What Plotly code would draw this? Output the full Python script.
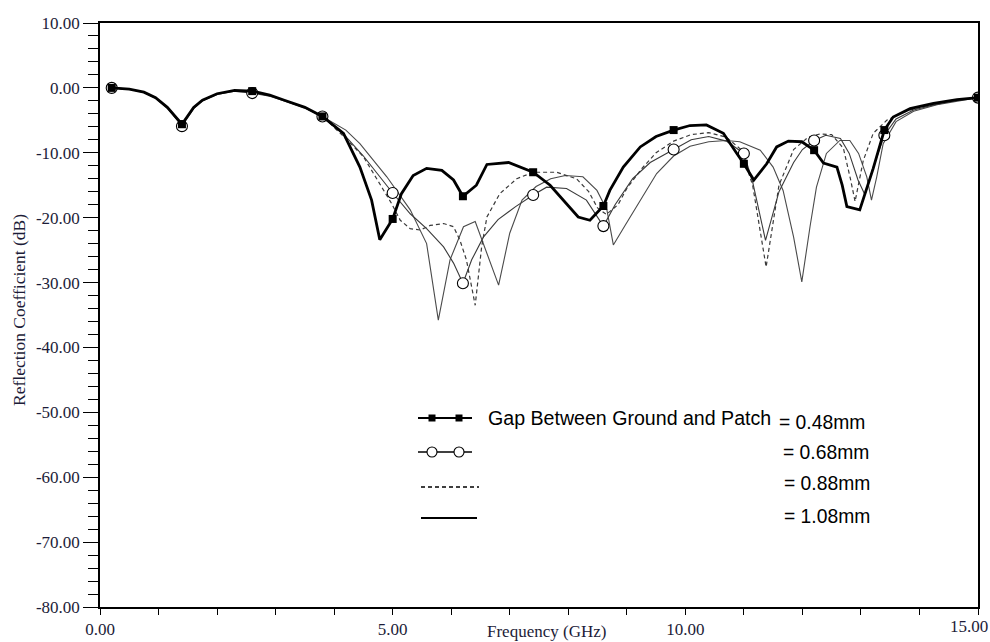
import plotly.graph_objects as go

# ---------------- data ----------------
F_048 = [0.2,0.5,0.75,0.95,1.15,1.4,1.6,1.75,2.0,2.3,2.6,2.9,3.15,3.5,3.8,4.16,4.44,4.64,4.78,5.0,5.15,5.35,5.58,5.84,6.04,6.2,6.43,6.61,6.98,7.2,7.4,7.69,7.97,8.17,8.37,8.6,8.71,8.94,9.23,9.5,9.8,10.08,10.36,10.65,10.88,11.0,11.17,11.39,11.56,11.76,11.99,12.2,12.36,12.59,12.68,12.76,12.98,13.21,13.4,13.55,13.84,14.24,14.64,15.0]
S_048 = [0.0,-0.2,-0.65,-1.5,-3.0,-5.6,-3.0,-1.9,-0.9,-0.4,-0.5,-1.1,-1.9,-3.0,-4.4,-7.0,-12.2,-17.3,-23.4,-20.2,-16.3,-13.5,-12.4,-12.7,-14.2,-16.7,-15.0,-11.8,-11.5,-12.3,-13.0,-15.0,-17.8,-19.9,-20.4,-18.2,-15.8,-12.2,-9.1,-7.5,-6.5,-5.8,-5.7,-7.0,-10.1,-11.7,-14.2,-11.7,-9.1,-8.2,-8.3,-9.6,-11.6,-12.2,-15.0,-18.3,-18.8,-12.4,-6.5,-4.5,-3.2,-2.4,-1.8,-1.5]

F_068 = [0.2,0.5,0.75,0.95,1.15,1.4,1.6,1.75,2.0,2.3,2.6,2.9,3.15,3.5,3.8,4.2,4.5,4.8,5.0,5.3,5.58,5.87,6.04,6.2,6.35,6.55,6.8,7.1,7.4,7.63,7.97,8.31,8.6,8.8,9.1,9.4,9.8,10.1,10.4,10.7,11.0,11.15,11.37,11.6,11.85,12.0,12.2,12.4,12.65,12.8,12.95,13.07,13.2,13.4,13.6,13.9,14.3,14.65,15.0]
S_068 = [0.0,-0.2,-0.7,-1.6,-3.1,-5.9,-3.2,-2.0,-1.0,-0.5,-0.8,-1.3,-2.0,-3.1,-4.4,-7.5,-10.5,-14.0,-16.2,-19.4,-21.7,-24.5,-27.0,-30.1,-26.5,-23.0,-20.3,-18.3,-16.5,-15.3,-15.5,-17.3,-21.3,-18.0,-14.0,-11.5,-9.5,-8.0,-7.5,-8.2,-10.1,-14.5,-23.5,-16.0,-11.5,-9.5,-8.1,-7.3,-7.8,-10.1,-14.2,-16.5,-12.5,-7.3,-4.8,-3.4,-2.5,-1.9,-1.5]

F_088 = [0.2,0.5,0.75,0.95,1.15,1.4,1.6,1.75,2.0,2.3,2.6,2.9,3.15,3.5,3.8,4.2,4.5,4.78,4.98,5.13,5.3,5.47,5.64,5.87,6.04,6.15,6.26,6.41,6.52,6.61,6.83,7.12,7.4,7.8,8.14,8.35,8.5,8.65,8.85,9.0,9.25,9.5,9.8,10.1,10.4,10.7,10.95,11.15,11.38,11.6,11.85,12.1,12.3,12.5,12.7,12.82,12.9,13.04,13.21,13.44,13.7,14.0,14.4,14.7,15.0]
S_088 = [0.0,-0.2,-0.65,-1.5,-3.0,-5.7,-3.0,-1.9,-0.9,-0.4,-0.6,-1.2,-1.9,-3.0,-4.4,-7.8,-10.6,-14.7,-17.8,-20.4,-21.7,-21.9,-21.2,-20.9,-21.4,-23.5,-26.5,-33.5,-24.5,-19.9,-16.3,-14.0,-13.0,-13.0,-14.0,-16.0,-18.5,-19.5,-18.0,-15.5,-12.5,-10.0,-8.2,-7.2,-6.9,-7.6,-9.5,-15.0,-27.6,-15.0,-9.5,-7.6,-7.1,-7.2,-9.3,-14.0,-17.5,-11.2,-7.0,-5.0,-3.8,-3.0,-2.3,-1.8,-1.5]

F_108 = [0.2,0.5,0.75,0.95,1.15,1.4,1.6,1.75,2.0,2.3,2.6,2.9,3.15,3.5,3.8,4.2,4.44,4.9,5.3,5.58,5.78,5.98,6.21,6.41,6.81,7.0,7.21,7.45,7.7,7.95,8.25,8.49,8.66,8.77,8.97,9.23,9.51,9.8,10.08,10.4,10.7,10.93,11.28,11.5,11.67,11.85,11.99,12.13,12.24,12.41,12.64,12.81,12.96,13.1,13.18,13.27,13.38,13.6,13.9,14.3,14.65,15.0]
S_108 = [0.0,-0.2,-0.65,-1.5,-3.0,-5.7,-3.0,-1.9,-0.9,-0.4,-0.6,-1.2,-1.9,-3.0,-4.4,-6.5,-8.6,-13.7,-18.8,-24.0,-35.8,-26.5,-21.4,-20.6,-30.4,-22.4,-17.3,-15.2,-14.0,-13.5,-13.7,-15.8,-18.8,-24.2,-21.2,-17.3,-13.2,-10.5,-9.0,-8.3,-8.1,-8.3,-9.6,-12.2,-15.8,-23.0,-29.9,-21.4,-15.3,-10.1,-8.1,-8.1,-10.1,-13.7,-17.3,-13.7,-8.6,-5.2,-3.6,-2.6,-2.0,-1.5]

MARKER_F = [0.2,1.4,2.6,3.8,5.0,6.2,7.4,8.6,9.8,11.0,12.2,13.4,15.0]

LABEL_TITLE = "Gap Between Ground and Patch"
LABELS = ["= 0.48mm", "= 0.68mm", "= 0.88mm", "= 1.08mm"]

X_TICKS = [0, 5, 10, 15]
Y_TICKS = [10, 0, -10, -20, -30, -40, -50, -60, -70, -80]

# ---------------- figure ----------------
W, H = 990, 642
ML, MR, MT, MB = 100, 12, 23, 35
PW, PH = W - ML - MR, H - MT - MB
TXT = "#1c1c38"
SERIF = "Liberation Serif, Times New Roman, serif"
SANS = "Liberation Sans, Arial, sans-serif"


def pick(fs, ss):
    xs, ys = [], []
    for f, s in zip(fs, ss):
        if any(abs(f - m) < 1e-9 for m in MARKER_F):
            xs.append(f)
            ys.append(s)
    return xs, ys


fig = go.Figure()

# thin solid 1.08
fig.add_trace(go.Scatter(x=F_108, y=S_108, mode="lines",
                         line=dict(color="#4a4a4a", width=1.1), showlegend=False))
# dashed 0.88
fig.add_trace(go.Scatter(x=F_088, y=S_088, mode="lines",
                         line=dict(color="#3a3a3a", width=1.2, dash="4px,3px"), showlegend=False))
# 0.68 with circles
fig.add_trace(go.Scatter(x=F_068, y=S_068, mode="lines",
                         line=dict(color="#3a3a3a", width=1.1), showlegend=False))
mx, my = pick(F_068, S_068)
fig.add_trace(go.Scatter(x=mx, y=my, mode="markers",
                         marker=dict(symbol="circle", size=11, color="white",
                                     line=dict(color="black", width=1.1)), showlegend=False))
# 0.48 thick with squares
fig.add_trace(go.Scatter(x=F_048, y=S_048, mode="lines",
                         line=dict(color="black", width=2.8), showlegend=False))
mx, my = pick(F_048, S_048)
fig.add_trace(go.Scatter(x=mx, y=my, mode="markers",
                         marker=dict(symbol="square", size=8, color="black"), showlegend=False))


def px(x):
    return (x - ML) / PW


def py(y):
    return (H - MB - y) / PH


shapes = []
# legend samples
rows = [
    dict(y=418, x0=418, x1=472, w=2.0, dash="solid", mk="sq"),
    dict(y=452, x0=418, x1=472, w=1.4, dash="solid", mk="ci"),
    dict(y=487, x0=421, x1=479, w=1.6, dash="4px,3px", mk=None),
    dict(y=518, x0=421, x1=477, w=2.2, dash="solid", mk=None),
]
for r in rows:
    shapes.append(dict(type="line", xref="paper", yref="paper",
                       x0=px(r["x0"]), x1=px(r["x1"]), y0=py(r["y"]), y1=py(r["y"]),
                       line=dict(color="black", width=r["w"], dash=r["dash"])))
    for cx in (432, 459):
        if r["mk"] == "sq":
            shapes.append(dict(type="rect", xref="paper", yref="paper",
                               xsizemode="pixel", ysizemode="pixel",
                               xanchor=px(cx), yanchor=py(r["y"]),
                               x0=-3.5, x1=3.5, y0=-3.5, y1=3.5,
                               fillcolor="black", line=dict(color="black", width=0)))
        elif r["mk"] == "ci":
            shapes.append(dict(type="circle", xref="paper", yref="paper",
                               xsizemode="pixel", ysizemode="pixel",
                               xanchor=px(cx), yanchor=py(r["y"]),
                               x0=-5, x1=5, y0=-5, y1=5,
                               fillcolor="white", line=dict(color="black", width=1.1)))

annotations = [
    dict(text=LABEL_TITLE, xref="paper", yref="paper", x=px(486), y=py(418),
         xanchor="left", yanchor="middle", showarrow=False,
         font=dict(family=SANS, size=19.6, color="black")),
]
lab_pos = [(777, 422), (781, 452), (782, 483), (782, 516)]
for t, (lx, ly) in zip(LABELS, lab_pos):
    annotations.append(dict(text=t, xref="paper", yref="paper", x=px(lx), y=py(ly),
                            xanchor="left", yanchor="middle", showarrow=False,
                            font=dict(family=SANS, size=19.3, color="black")))
# last x tick label sits flush with the right edge of the image
annotations.append(dict(text=f"{X_TICKS[-1]:.2f}", xref="paper", yref="paper",
                        x=px(W), y=py(626), xanchor="right", yanchor="middle",
                        showarrow=False, font=dict(family=SERIF, size=17, color=TXT)))
# axis titles
annotations.append(dict(text="Frequency (GHz)", xref="paper", yref="paper",
                        x=px(546), y=py(632), xanchor="center", yanchor="middle",
                        showarrow=False, font=dict(family=SERIF, size=17, color=TXT)))
annotations.append(dict(text="Reflection Coefficient (dB)", xref="paper", yref="paper",
                        x=px(19), y=py(310), xanchor="center", yanchor="middle",
                        textangle=-90, showarrow=False,
                        font=dict(family=SERIF, size=17.5, color=TXT)))

fig.update_layout(
    width=W, height=H,
    margin=dict(l=ML, r=MR, t=MT, b=MB, pad=0, autoexpand=False),
    paper_bgcolor="white", plot_bgcolor="white",
    showlegend=False,
    shapes=shapes, annotations=annotations,
    xaxis=dict(range=[0, 15], tickmode="array", tickvals=X_TICKS[:-1],
               ticktext=[f"{v:.2f}" for v in X_TICKS[:-1]],
               ticks="outside", ticklen=6, tickwidth=1.3, tickcolor="black",
               ticklabelstandoff=0, automargin=False,
               minor=dict(tickmode="linear", tick0=0, dtick=1, ticks="outside",
                          ticklen=6, tickwidth=1.3, tickcolor="black"),
               showline=True, linecolor="black", linewidth=1.5, mirror=True,
               showgrid=False, zeroline=False,
               tickfont=dict(family=SERIF, size=17, color=TXT)),
    yaxis=dict(range=[-80, 10], tickmode="array", tickvals=Y_TICKS,
               ticktext=[f"{v:.2f}" for v in Y_TICKS], automargin=False,
               ticks="outside", ticklen=15, tickwidth=1.3, tickcolor="black",
               minor=dict(tickmode="linear", tick0=0, dtick=2, ticks="outside",
                          ticklen=10, tickwidth=1.3, tickcolor="black"),
               showline=True, linecolor="black", linewidth=1.5, mirror=True,
               showgrid=False, zeroline=False,
               tickfont=dict(family=SERIF, size=17, color=TXT)),
)

fig.write_html("out.html")
